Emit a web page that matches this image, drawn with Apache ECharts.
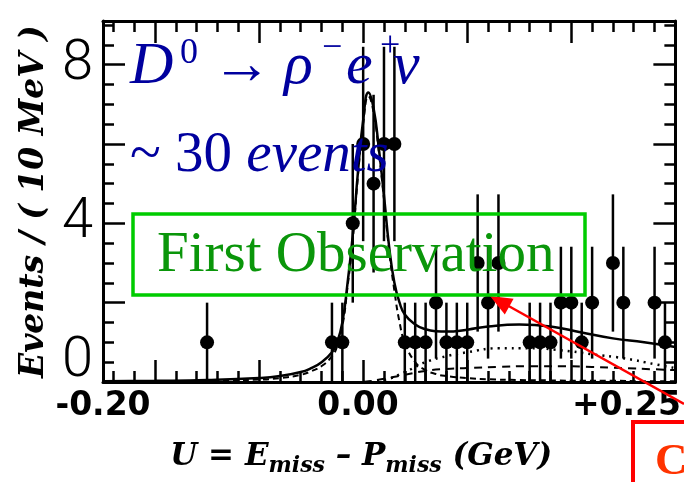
<!DOCTYPE html>
<html><head><meta charset="utf-8">
<script src="https://cdn.jsdelivr.net/npm/echarts@6/dist/echarts.min.js"></script>
<style>html,body{margin:0;padding:0;background:#fff}#c{width:684px;height:482px}</style>
</head><body><div id="c"></div>
<script>
// ---- data ----
const binCenters = [-0.15,-0.03,-0.02,-0.01,0.00,0.01,0.02,0.03,0.04,0.05,0.06,0.07,0.08,0.09,0.10,0.11,0.12,0.13,0.16,0.17,0.18,0.19,0.20,0.21,0.22,0.24,0.25,0.28,0.29];
const counts     = [1,1,1,4,6,5,6,6,1,1,1,2,1,1,1,3,2,3,1,1,1,2,2,1,2,3,2,2,1];
const errs       = [1,1,1,2,2.45,2.24,2.45,2.45,1,1,1,1.41,1,1,1,1.73,1.41,1.73,1,1,1,1.41,1.41,1,1.41,1.73,1.41,1.41,1];

const fitX     = [-0.25,-0.20,-0.15,-0.10,-0.08,-0.06,-0.05,-0.04,-0.03,-0.025,-0.02,-0.015,-0.01,-0.005,0.000,0.005,0.010,0.015,0.020,0.025,0.030,0.035,0.04,0.05,0.06,0.07,0.08,0.10,0.12,0.15,0.18,0.21,0.24,0.27,0.30];
const fitTotal = [0.02,0.03,0.05,0.10,0.15,0.25,0.35,0.50,0.75,1.0,1.5,2.5,3.7,5.3,6.6,7.3,6.9,5.9,4.7,3.4,2.5,2.0,1.7,1.45,1.33,1.28,1.27,1.32,1.40,1.45,1.40,1.25,1.10,1.00,0.88];
const fitSignal= [0.01,0.02,0.03,0.06,0.10,0.18,0.27,0.40,0.65,0.9,1.4,2.4,3.6,5.2,6.5,7.2,6.8,5.8,4.6,3.3,2.3,1.5,1.0,0.5,0.3,0.2,0.15,0.1,0.07,0.05,0.04,0.03,0.03,0.02,0.02];
const bkgX      = [0.00,0.02,0.04,0.06,0.08,0.10,0.13,0.16,0.19,0.22,0.25,0.28,0.30];
const bkgDotted = [0.00,0.05,0.25,0.50,0.65,0.75,0.85,0.85,0.80,0.70,0.60,0.45,0.35];
const bkgDashed = [0.00,0.08,0.18,0.28,0.33,0.35,0.38,0.40,0.40,0.38,0.35,0.32,0.30];

const xTickLabels = ['-0.20','0.00','+0.25'];
const xTickLabelAt = [-0.25,-0.005,0.253];
const yTickLabels = [0,4,8];

const pts = binCenters.map((x,i)=>[x,counts[i],errs[i]]);
const zip = (xs,ys)=>xs.map((x,i)=>[x,ys[i]]);

const chart = echarts.init(document.getElementById('c'));
const XMIN=-0.25, XMAX=0.30, YMIN=0, YMAX=9.1;
const lineS = {color:'#000',width:3};
const tickS = {color:'#000',width:2.5};

function xFrame(pos){
  return {type:'value', position:pos, min:XMIN, max:XMAX,
    axisLine:{show:true, onZero:false, lineStyle:lineS},
    axisTick:{show:true, inside:true, length:22, lineStyle:tickS},
    minorTick:{show:true, splitNumber:5, length:11, lineStyle:tickS},
    axisLabel:{show:false}, splitLine:{show:false}, minorSplitLine:{show:false}};
}
function yFrame(pos){
  return {type:'value', position:pos, min:YMIN, max:YMAX, interval:2,
    axisLine:{show:true, onZero:false, lineStyle:lineS},
    axisTick:{show:true, inside:true, length:22, lineStyle:tickS},
    minorTick:{show:true, splitNumber:4, length:11, lineStyle:tickS},
    axisLabel:{show:false}, splitLine:{show:false}, minorSplitLine:{show:false}};
}

const x0 = xFrame('bottom');
x0.axisLabel = {show:true, customValues:xTickLabelAt, margin:8,
  formatter:(v)=>{let b=0;xTickLabelAt.forEach((p,i)=>{if(Math.abs(p-v)<Math.abs(xTickLabelAt[b]-v))b=i;});return xTickLabels[b];},
  fontFamily:'DejaVu Sans', fontWeight:'bold', fontSize:33, color:'#000'};
x0.name = 'U = E{s|miss} – P{s|miss} (GeV)';
x0.nameLocation = 'middle';
x0.nameGap = 55;
x0.nameTextStyle = {fontFamily:'DejaVu Serif', fontStyle:'italic', fontWeight:'bold', fontSize:31, color:'#000',
  lineHeight:40, verticalAlign:'top', padding:[0,56,0,0],
  rich:{s:{fontFamily:'DejaVu Serif', fontStyle:'italic', fontWeight:'bold', fontSize:22, lineHeight:40, verticalAlign:'bottom', color:'#000'}}};

const y0 = yFrame('left');
y0.axisLabel = {show:true, customValues:yTickLabels, margin:10, color:'#000',
  formatter:(v)=> v === 0 ? '{z|0}' : '{n|' + v + '}',
  rich:{n:{fontFamily:'Roboto', fontWeight:300, fontSize:56, lineHeight:40, color:'#000'},
        z:{fontFamily:'Roboto', fontWeight:300, fontSize:56, lineHeight:40, color:'#000', padding:[0,0,40,0]}}};
y0.name = 'Events / ( 10 MeV )';
y0.nameLocation = 'middle';
y0.nameGap = 52;
y0.nameTextStyle = {fontFamily:'DejaVu Serif', fontStyle:'italic', fontWeight:'bold', fontSize:33, color:'#000'};

const option = {
  animation:false,
  backgroundColor:'#fff',
  grid:{left:103, right:6, top:21, bottom:98},
  xAxis:[x0, xFrame('top')],
  yAxis:[y0, yFrame('right')],
  series:[
    {type:'line', data:zip(bkgX,bkgDashed), smooth:true, showSymbol:false, lineStyle:{color:'#000',width:2,type:[8,6]}, z:2},
    {type:'line', data:zip(bkgX,bkgDotted), smooth:true, showSymbol:false, lineStyle:{color:'#000',width:2.5,type:[2,5]}, z:2},
    {type:'line', data:zip(fitX,fitSignal), smooth:true, showSymbol:false, lineStyle:{color:'#000',width:2,type:[6,4]}, z:2},
    {type:'line', data:zip(fitX,fitTotal), smooth:true, showSymbol:false, lineStyle:{color:'#000',width:2.5}, z:3},
    {type:'custom', data:pts, z:4,
      renderItem:(params, api)=>{
        const x=api.value(0), y=api.value(1), e=api.value(2);
        const a=api.coord([x, Math.max(0,y-e)]), b=api.coord([x, y+e]);
        return {type:'line', shape:{x1:a[0],y1:a[1],x2:b[0],y2:b[1]}, style:{stroke:'#000', lineWidth:2.5}};
      }},
    {type:'scatter', data:pts.map(p=>[p[0],p[1]]), symbol:'circle', symbolSize:14, itemStyle:{color:'#000', opacity:1}, z:5}
  ],
  graphic:[
    {type:'line', z:100, shape:{x1:684,y1:404,x2:505,y2:304}, style:{stroke:'#ff0000', lineWidth:2.5}},
    {type:'polygon', z:100, shape:{points:[[490,296],[504.8,314.6],[513.6,298.8]]}, style:{fill:'#ff0000'}},
    {type:'rect', z:101, shape:{x:133,y:214,width:452,height:81}, style:{fill:'transparent', stroke:'#00cc00', lineWidth:3.5}},
    {type:'text', z:102, x:157, y:256, style:{text:'First Observation', fill:'#0a960a', font:'57px "Liberation Serif"', verticalAlign:'middle'}},
    {type:'text', z:102, x:130, y:67, style:{text:'D', fill:'#00009e', font:'italic 60px "Liberation Serif"', verticalAlign:'middle'}},
    {type:'text', z:102, x:180, y:54, style:{text:'0', fill:'#00009e', font:'36px "Liberation Serif"', verticalAlign:'middle'}},
    {type:'text', z:102, x:212, y:67, style:{text:'→', fill:'#00009e', font:'60px "Liberation Serif"', verticalAlign:'middle'}},
    {type:'text', z:102, x:284, y:67, style:{text:'ρ', fill:'#00009e', font:'italic 60px "Liberation Serif"', verticalAlign:'middle'}},
    {type:'text', z:102, x:322, y:49, style:{text:'−', fill:'#00009e', font:'36px "Liberation Serif"', verticalAlign:'middle'}},
    {type:'text', z:102, x:346, y:67, style:{text:'e', fill:'#00009e', font:'italic 60px "Liberation Serif"', verticalAlign:'middle'}},
    {type:'text', z:102, x:380, y:47, style:{text:'+', fill:'#00009e', font:'36px "Liberation Serif"', verticalAlign:'middle'}},
    {type:'text', z:102, x:393, y:67, style:{text:'ν', fill:'#00009e', font:'italic 60px "Liberation Serif"', verticalAlign:'middle'}},
    {type:'text', z:102, x:130, y:156, style:{text:'{n|~ 30 }{i|events}', fill:'#00009e', verticalAlign:'middle',
      rich:{n:{fontFamily:'Liberation Serif', fontSize:57, fill:'#00009e', color:'#00009e'}, i:{fontFamily:'Liberation Serif', fontStyle:'italic', fontSize:57, fill:'#00009e', color:'#00009e'}}}},
    {type:'rect', z:103, shape:{x:633,y:422,width:120,height:120}, style:{fill:'#fff', stroke:'#ff0000', lineWidth:4}},
    {type:'text', z:104, x:655, y:462, style:{text:'C', fill:'#ff3300', font:'bold 45px "Liberation Serif"', verticalAlign:'middle'}}
  ]
};
chart.setOption(option);
</script>
</body></html>
